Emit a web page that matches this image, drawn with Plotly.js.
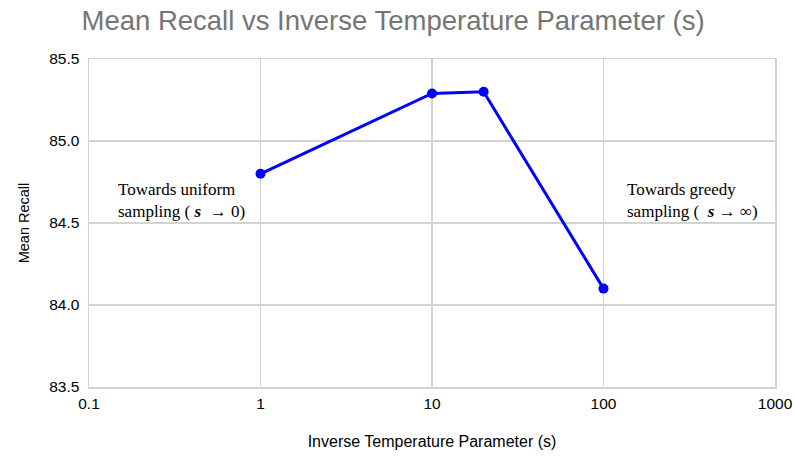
<!DOCTYPE html>
<html><head><meta charset="utf-8">
<script src="https://cdn.plot.ly/plotly-3.0.1.min.js"></script>
<style>body{margin:0;padding:0;}</style>
</head><body>
<div id="chart" style="width:794px;height:458px;"></div>
<script>
const sValues = [1, 10, 20, 100];
const meanRecall = [84.8, 85.29, 85.3, 84.1];
const xTickVals = [0.1, 1, 10, 100, 1000];
const xTickText = ["0.1", "1", "10", "100", "1000"];
const yTickVals = [83.5, 84.0, 84.5, 85.0, 85.5];
const yTickText = ["83.5", "84.0", "84.5", "85.0", "85.5"];

const trace = {
  x: sValues, y: meanRecall, type: 'scatter', mode: 'lines+markers',
  line: {color: '#0000ff', width: 3},
  marker: {color: '#0000ff', size: 10},
  showlegend: false, cliponaxis: false
};
const sans = 'Liberation Sans, Arial, sans-serif';
const serif = "Liberation Serif, Times New Roman, serif";
const layout = {
  width: 794, height: 458,
  margin: {l: 89, r: 19, t: 59, b: 71},
  paper_bgcolor: '#ffffff', plot_bgcolor: '#ffffff',
  title: {text: 'Mean Recall vs Inverse Temperature Parameter (s)',
    font: {family: sans, size: 27.5, color: '#757575'},
    x: 0.495, xanchor: 'center', xref: 'container', y: 0.955, yanchor: 'middle'},
  xaxis: {type: 'log', range: [-1, 3], tickvals: xTickVals, ticktext: xTickText,
    showgrid: true, gridcolor: '#d3d3d3', gridwidth: 1.5, zeroline: false,
    showline: true, mirror: true, linecolor: '#d3d3d3', linewidth: 1.5, ticks: '',
    tickfont: {family: sans, size: 15.5, color: '#000'}, ticklabelstandoff: 2,
    title: {text: 'Inverse Temperature Parameter (s)', standoff: 24,
      font: {family: sans, size: 16, color: '#000'}}},
  yaxis: {range: [83.5, 85.5], tickvals: yTickVals, ticktext: yTickText,
    showgrid: true, gridcolor: '#d3d3d3', gridwidth: 1.5, zeroline: false,
    showline: true, mirror: true, linecolor: '#d3d3d3', linewidth: 1.5, ticks: '',
    tickfont: {family: sans, size: 15.5, color: '#000'}, ticklabelstandoff: 5,
    title: {text: 'Mean Recall', standoff: 16,
      font: {family: sans, size: 14.5, color: '#000'}}},
  annotations: [
    {x: -0.845, y: 84.635, xref: 'x', yref: 'y', xanchor: 'left', yanchor: 'middle', align: 'left',
     showarrow: false, font: {family: serif, size: 17, color: '#000'},
     text: 'Towards uniform<br>sampling ( <b><i>s</i></b>  → 0)'},
    {x: 2.125, y: 84.635, xref: 'x', yref: 'y', xanchor: 'left', yanchor: 'middle', align: 'left',
     showarrow: false, font: {family: serif, size: 17, color: '#000'},
     text: 'Towards greedy<br>sampling (  <b><i>s</i></b> → ∞)'}
  ]
};
Plotly.newPlot('chart', [trace], layout, {displayModeBar: false, staticPlot: true});
</script>
</body></html>
